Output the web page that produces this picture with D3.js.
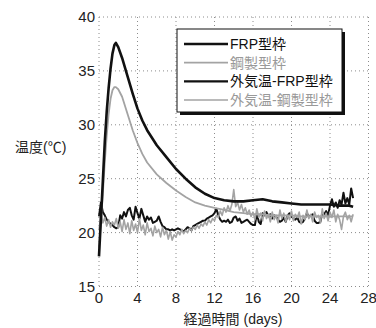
<!DOCTYPE html>
<html>
<head>
<meta charset="utf-8">
<script src="https://cdn.jsdelivr.net/npm/d3@7"></script>
<style>
  body { margin: 0; background: #fff; }
  text { font-family: "Liberation Sans", Arial, "Noto Sans CJK JP", sans-serif; }
</style>
</head>
<body>
<div id="chart"></div>
<script>
let width = 376,
	height = 328;

// concrete temperature curves (days / °C)
let curveDays = [0, 0.2, 0.4, 0.6, 0.8, 1.0, 1.2, 1.4, 1.6, 1.75, 2.0, 2.4, 3.0, 3.5, 4.0, 4.5, 5.0,
	6, 7, 8, 9, 10, 11, 12, 13, 14, 15, 16, 17, 18, 19, 20, 21, 22, 23, 24, 25, 26, 26.4];
let frpTemp = [17.8, 21.3, 24.8, 28.4, 31.2, 33.4, 35.2, 36.6, 37.4, 37.6, 37.2, 36.2, 34.4, 32.9, 31.5, 30.4, 29.5,
	28.1, 27.0, 25.9, 25.0, 24.2, 23.6, 23.2, 23.0, 22.9, 22.9, 23.0, 23.1, 22.9, 22.8, 22.7, 22.6, 22.6, 22.6, 22.6, 22.5, 22.5, 22.4];
let steelTemp = [18.6, 21.0, 23.6, 26.5, 29.0, 31.0, 32.4, 33.2, 33.5, 33.5, 33.3, 32.6, 30.9, 29.5, 28.3, 27.3, 26.5,
	25.4, 24.6, 23.9, 23.3, 22.8, 22.5, 22.3, 22.1, 21.9, 21.8, 21.7, 21.7, 21.6, 21.6, 21.6, 21.5, 21.5, 21.5, 21.5, 21.5, 21.5, 21.5];

// outside-temperature readings, one every 0.2 days (10 per row = 2 days)
let outStep = 0.2;
let outFrpTemp = [
	21.5, 22.8, 21.9, 21.6, 21.2, 21.0, 20.8, 20.7, 20.5, 20.4,
	20.5, 21.6, 21.3, 21.9, 21.5, 22.1, 22.3, 21.6, 21.2, 22.4,
	21.8, 21.3, 22.2, 21.6, 21.0, 21.5, 21.2, 21.4, 20.9, 21.0,
	21.1, 21.5, 21.0, 20.6, 20.5, 20.3, 20.3, 20.2, 20.3, 20.2,
	20.3, 20.4, 20.3, 20.2, 20.1, 20.3, 20.5, 20.4, 20.2, 20.6,
	20.7, 20.8, 20.9, 21.0, 21.1, 21.1, 21.3, 21.4, 21.5, 21.6,
	21.8, 22.2, 21.6, 21.2, 21.0, 21.1, 21.0, 21.2, 20.9, 21.0,
	21.4, 21.5, 21.1, 21.3, 20.9, 21.0, 21.1, 21.2, 21.0, 20.8,
	20.7, 20.7, 21.8, 21.0, 20.8, 21.8, 21.6, 21.9, 21.5, 21.7,
	21.3, 21.6, 21.5, 21.2, 21.0, 21.1, 21.4, 21.0, 21.6, 21.8,
	21.5, 21.3, 21.2, 21.4, 21.0, 20.9, 21.0, 21.3, 21.8, 21.5,
	21.6, 21.7, 21.1, 20.9, 20.9, 21.0, 21.8, 21.7, 22.0, 21.6,
	22.5, 23.1, 22.4, 22.8, 22.3, 23.0, 22.6, 23.7, 22.7, 23.2,
	22.6, 24.1, 23.2
];
let outSteelTemp = [
	20.2, 21.8, 20.9, 21.4, 20.6, 21.2, 20.5, 21.0, 20.7, 21.3,
	20.4, 21.0, 20.1, 21.2, 20.3, 20.9, 19.9, 21.1, 20.2, 20.8,
	20.0, 21.3, 20.2, 20.7, 19.8, 20.9, 20.1, 20.4, 19.7, 20.6,
	20.0, 20.3, 19.6, 20.5, 19.8, 20.2, 19.4, 20.1, 19.3, 19.8,
	19.6, 20.1, 19.8, 20.3, 19.9, 20.2, 20.0, 20.4, 20.2, 20.5,
	20.3, 20.7, 20.4, 20.8, 20.6, 21.0, 20.7, 21.2, 20.9, 21.3,
	21.1, 21.6, 21.4, 22.0, 21.6, 22.3, 21.9, 22.5, 22.0, 22.6,
	24.0, 22.4, 22.8, 22.1, 22.6, 21.9, 22.3, 21.7, 22.1, 21.5,
	21.9, 21.2, 22.2, 21.4, 21.8, 21.1, 22.0, 21.3, 21.7, 21.0,
	21.9, 21.2, 21.6, 20.9, 22.1, 21.3, 21.8, 21.0, 21.6, 21.2,
	22.0, 21.1, 21.7, 21.4, 21.9, 20.8, 21.6, 21.2, 22.1, 21.3,
	21.7, 21.0, 21.9, 21.4, 21.6, 20.9, 22.2, 21.3, 21.8, 21.1,
	21.9, 21.4, 22.1, 21.0, 21.7, 21.2, 20.3, 21.5, 21.9, 21.2,
	21.6, 21.0, 21.7
];

let xTicks = [0, 4, 8, 12, 16, 20, 24, 28];
let yTicks = [15, 20, 25, 30, 35, 40];
let legendLabels = ['FRP型枠', '鋼製型枠', '外気温-FRP型枠', '外気温-鋼製型枠'];

let x = d3.scaleLinear().domain([0, 28]).range([99, 368.5]);
let y = d3.scaleLinear().domain([15, 40]).range([286.5, 17]);

let svg = d3.select('#chart').append('svg').attr('width', width).attr('height', height);

// dotted grid (also forms the frame)
svg.append('g').selectAll('line').data(xTicks).enter().append('line')
	.attr('x1', d => x(d)).attr('x2', d => x(d))
	.attr('y1', y(40)).attr('y2', y(15))
	.attr('stroke', '#8c8c8c').attr('stroke-width', 1).attr('stroke-dasharray', '1,3');
svg.append('g').selectAll('line').data(yTicks).enter().append('line')
	.attr('y1', d => y(d)).attr('y2', d => y(d))
	.attr('x1', x(0)).attr('x2', x(28))
	.attr('stroke', '#8c8c8c').attr('stroke-width', 1).attr('stroke-dasharray', '1,3');

// tick labels
svg.append('g').selectAll('text').data(xTicks).enter().append('text')
	.attr('x', d => x(d)).attr('y', 303)
	.attr('text-anchor', 'middle').attr('font-size', 15).attr('fill', '#222')
	.text(d => d);
svg.append('g').selectAll('text').data(yTicks).enter().append('text')
	.attr('x', 95).attr('y', d => y(d) + 5)
	.attr('text-anchor', 'end').attr('font-size', 15).attr('fill', '#222')
	.text(d => d);

svg.append('text').attr('x', 15).attr('y', 152).attr('font-size', 14).attr('fill', '#222')
	.text('温度(℃)');
svg.append('text').attr('x', 233).attr('y', 324).attr('text-anchor', 'middle').attr('font-size', 14).attr('fill', '#222')
	.text('経過時間 (days)');

let line = d3.line().x(d => x(d[0])).y(d => y(d[1]));
let outFrp = outFrpTemp.map((t, i) => [i * outStep, t]);
let outSteel = outSteelTemp.map((t, i) => [i * outStep, t]);
let frp = curveDays.map((d, i) => [d, frpTemp[i]]);
let steel = curveDays.map((d, i) => [d, steelTemp[i]]);

let series = [
	{data: outFrp, color: '#111', w: 2},
	{data: outSteel, color: '#a3a3a3', w: 1.6},
	{data: steel, color: '#a3a3a3', w: 1.8},
	{data: frp, color: '#111', w: 2.6}
];
svg.append('g').selectAll('path').data(series).enter().append('path')
	.attr('d', d => line(d.data))
	.attr('fill', 'none')
	.attr('stroke', d => d.color)
	.attr('stroke-width', d => d.w)
	.attr('stroke-linejoin', 'round');

// legend with drop shadow
let lg = svg.append('g');
lg.append('rect').attr('x', 180).attr('y', 32).attr('width', 165).attr('height', 83).attr('fill', '#111');
lg.append('rect').attr('x', 177).attr('y', 29).attr('width', 165).attr('height', 83)
	.attr('fill', '#fff').attr('stroke', '#111').attr('stroke-width', 1);
let legendStyle = [
	{color: '#111', w: 2.4},
	{color: '#a3a3a3', w: 1.6},
	{color: '#111', w: 2.4},
	{color: '#a3a3a3', w: 1.6}
];
let legendY = d3.scalePoint().domain(legendLabels).range([44, 100]);
lg.selectAll('line').data(legendLabels).enter().append('line')
	.attr('x1', 184).attr('x2', 228)
	.attr('y1', d => legendY(d)).attr('y2', d => legendY(d))
	.attr('stroke', (d, i) => legendStyle[i].color)
	.attr('stroke-width', (d, i) => legendStyle[i].w);
lg.selectAll('text').data(legendLabels).enter().append('text')
	.attr('x', 230).attr('y', d => legendY(d) + 5)
	.attr('font-size', 14)
	.attr('fill', (d, i) => i % 2 ? '#999' : '#111')
	.text(d => d);
</script>
</body>
</html>
